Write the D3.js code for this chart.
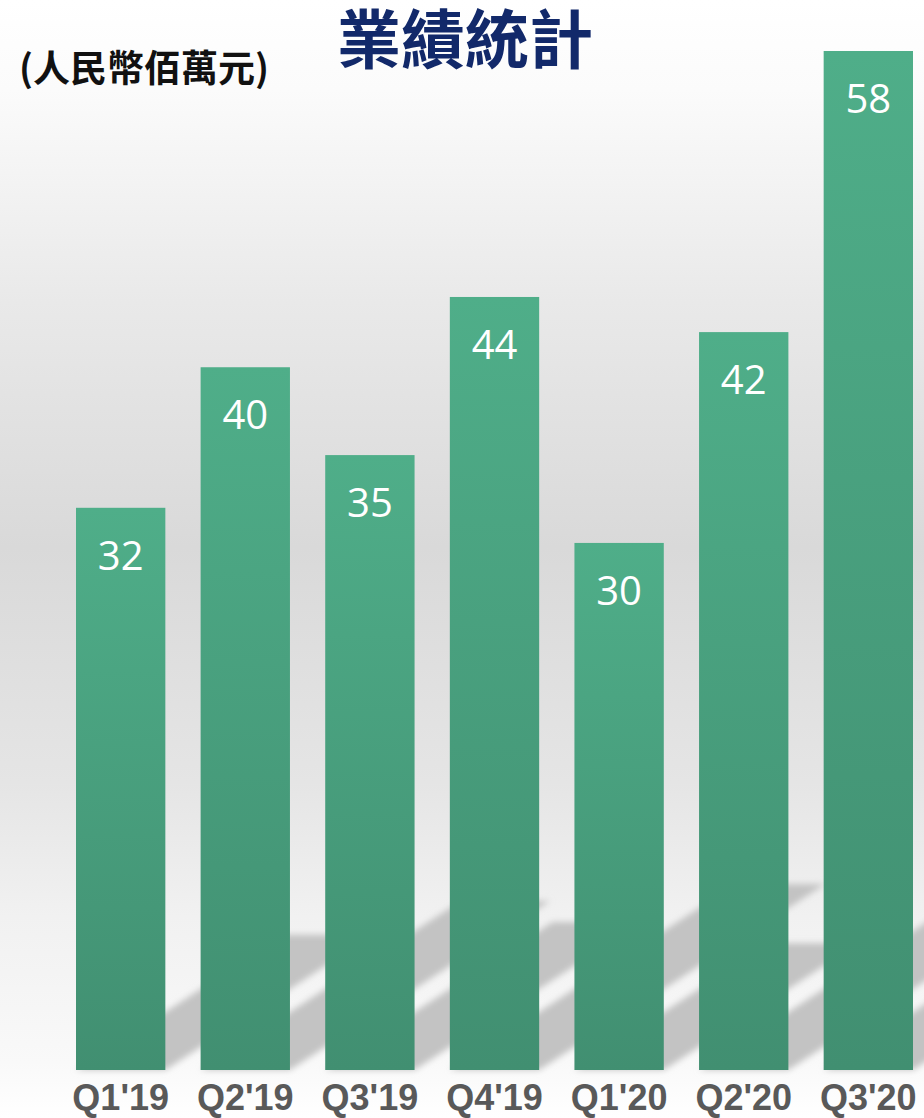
<!DOCTYPE html>
<html>
<head>
<meta charset="utf-8">
<script src="https://cdn.jsdelivr.net/npm/d3@7"></script>
<style>
html,body{margin:0;padding:0;background:#fff;}
svg{display:block;}
</style>
</head>
<body>
<div id="chart"></div>
<script>
const categories = ["Q1'19","Q2'19","Q3'19","Q4'19","Q1'20","Q2'20","Q3'20"];
const values = [32, 40, 35, 44, 30, 42, 58];
const title = "業績統計";
const unitLabel = "(人民幣佰萬元)";

const W = 924, H = 1118;
const baseY = 1070;

const svg = d3.select("#chart").append("svg")
  .attr("width", W).attr("height", H);

const defs = svg.append("defs");

const bg = defs.append("linearGradient").attr("id","bg")
  .attr("x1",0).attr("y1",0).attr("x2",0).attr("y2",1);
[[0,"#ffffff"],[0.08,"#fbfbfb"],[0.27,"#e9e9e9"],[0.49,"#d9d9d9"],[0.7,"#e5e5e5"],[0.82,"#f1f1f1"],[0.95,"#f9f9f9"],[1,"#ffffff"]]
  .forEach(([o,c]) => bg.append("stop").attr("offset",o).attr("stop-color",c));

const bar = defs.append("linearGradient").attr("id","barGrad")
  .attr("x1",0).attr("y1",0).attr("x2",0).attr("y2",1);
bar.append("stop").attr("offset",0).attr("stop-color","#4fae89");
bar.append("stop").attr("offset",1).attr("stop-color","#418f71");

const blur = defs.append("filter").attr("id","blur")
  .attr("x","-20%").attr("y","-20%").attr("width","140%").attr("height","140%");
blur.append("feGaussianBlur").attr("stdDeviation",3);

svg.append("rect").attr("width",W).attr("height",H).attr("fill","url(#bg)");

const x = d3.scaleBand().domain(categories).range([76, 913]).paddingInner(0.283).paddingOuter(0);
const y = d3.scaleLinear().domain([0, 58]).range([baseY, 51]);

const data = categories.map((c,i) => ({c, v: values[i]}));

// shadows cast on the floor
const slope = 0.65;
const shadowG = svg.append("g").attr("filter","url(#blur)");
shadowG.selectAll("path").data(data).join("path")
  .attr("d", d => {
    const x0 = x(d.c), x1 = x(d.c) + x.bandwidth();
    const L = (baseY - y(d.v)) * 0.37;
    const dy = L * slope;
    return `M${x0},${baseY} L${x1},${baseY} L${x1+L},${baseY-dy} L${x0+L},${baseY-dy} Z`;
  })
  .attr("fill","#c3c3c3");

svg.append("g").selectAll("rect").data(data).join("rect")
  .attr("x", d => x(d.c))
  .attr("y", d => y(d.v))
  .attr("width", x.bandwidth())
  .attr("height", d => baseY - y(d.v))
  .attr("fill","url(#barGrad)");

svg.append("g").selectAll("text").data(data).join("text")
  .attr("x", d => x(d.c) + x.bandwidth()/2)
  .attr("y", d => y(d.v) + 62)
  .attr("text-anchor","middle")
  .attr("font-family","'Open Sans','Noto Sans',sans-serif")
  .attr("font-size",40)
  .attr("fill","#ffffff")
  .text(d => d.v);

const xAxis = d3.axisBottom(x).tickSize(0).tickPadding(0);
const ax = svg.append("g").attr("transform",`translate(0,${baseY})`).call(xAxis);
ax.select(".domain").remove();
ax.selectAll("text")
  .attr("y", 40)
  .attr("dy", 0)
  .attr("font-family","'Liberation Sans',Arial,sans-serif")
  .attr("font-weight","bold")
  .attr("font-size",36)
  .attr("fill","#595959");

svg.append("text")
  .attr("x", 465).attr("y", 63)
  .attr("text-anchor","middle")
  .attr("font-family","'Noto Sans CJK TC','Noto Sans CJK SC',sans-serif")
  .attr("font-weight","bold")
  .attr("font-size",64)
  .attr("fill","#12296a")
  .text(title);

svg.append("text")
  .attr("x", 19).attr("y", 82)
  .attr("font-family","'Noto Sans CJK TC','Noto Sans CJK SC',sans-serif")
  .attr("font-weight","bold")
  .attr("font-size",37)
  .attr("fill","#111111")
  .text(unitLabel);
</script>
</body>
</html>
